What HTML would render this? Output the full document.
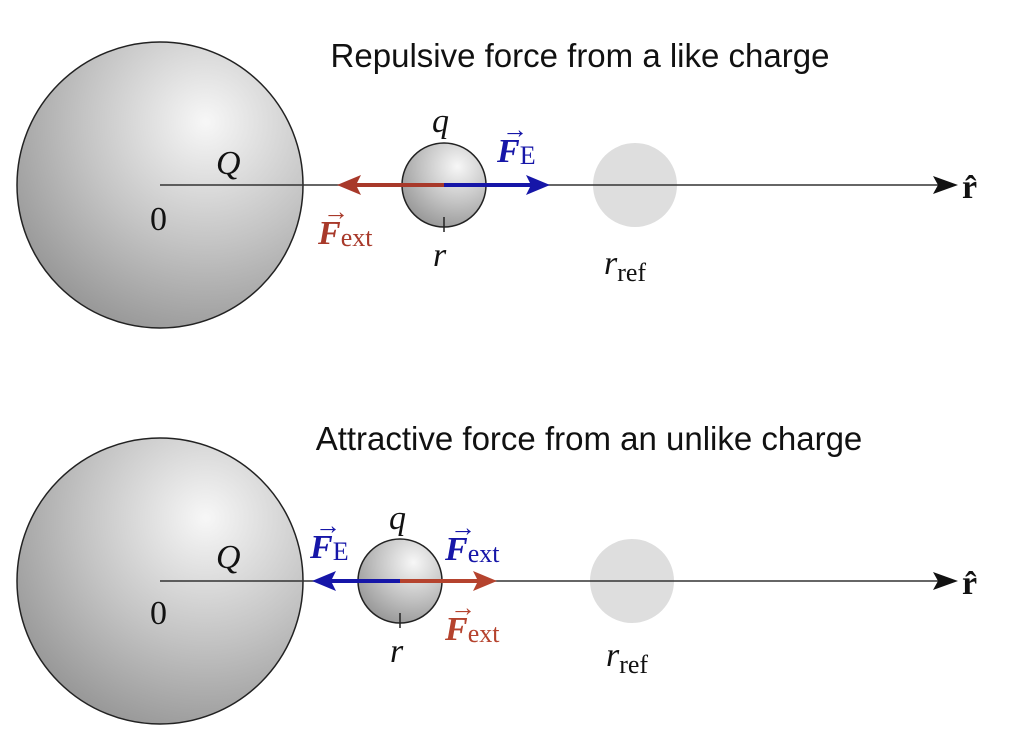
<!DOCTYPE html>
<html><head><meta charset="utf-8"><style>
html,body{margin:0;padding:0;background:#fff;}
svg{display:block;}
.t{font-family:"Liberation Sans",sans-serif;font-size:33px;fill:#111;}
.m{font-family:"Liberation Serif",serif;font-size:34px;}
.s{font-family:"Liberation Serif",serif;font-size:26px;}
</style></head><body>
<svg width="1024" height="745" viewBox="0 0 1024 745" xmlns="http://www.w3.org/2000/svg">
<defs>
<radialGradient id="g" cx="0.66" cy="0.28" r="0.85">
<stop offset="0" stop-color="#f7f7f7"/><stop offset="0.5" stop-color="#c4c4c4"/><stop offset="1" stop-color="#8e8e8e"/>
</radialGradient>
</defs>
<rect width="1024" height="745" fill="#fff"/>
<text class="t" x="580" y="67" text-anchor="middle">Repulsive force from a like charge</text>
<text class="t" x="589" y="450" text-anchor="middle">Attractive force from an unlike charge</text>

<!-- top panel -->
<circle cx="160" cy="185" r="143" fill="url(#g)" stroke="#222" stroke-width="1.5"/>
<circle cx="635" cy="185" r="42" fill="#dedede"/>
<line x1="160" y1="185" x2="945" y2="185" stroke="#333" stroke-width="1.5"/>
<polygon points="958,185 933,176 938,185 933,194" fill="#111"/>
<circle cx="444" cy="185" r="42" fill="url(#g)" stroke="#222" stroke-width="1.5"/>
<line x1="444" y1="217" x2="444" y2="232" stroke="#222" stroke-width="1.5"/>
<line x1="444" y1="185" x2="355" y2="185" stroke="#a8392a" stroke-width="4"/>
<polygon points="337,185 361,175 356,185 361,195" fill="#a8392a"/>
<line x1="444" y1="185" x2="532" y2="185" stroke="#1616a8" stroke-width="4"/>
<polygon points="550,185 526,175 531,185 526,195" fill="#1616a8"/>
<text class="m" x="962" y="198" style="fill:#111;font-weight:bold">r̂</text>
<text class="m" x="216" y="174" style="fill:#111;font-style:italic">Q</text>
<text class="m" x="150" y="230" style="fill:#111">0</text>
<text class="m" x="432" y="132" style="fill:#111;font-style:italic">q</text>
<text class="m" x="433" y="266" style="fill:#111;font-style:italic">r</text>
<text class="m" x="604" y="274" style="fill:#111;font-style:italic">r<tspan class="s" style="font-style:normal" dy="7">ref</tspan></text>
<text class="m" x="497" y="162" style="fill:#1616a8;font-style:italic;font-weight:bold">F<tspan class="s" style="font-style:normal;font-weight:normal" dy="2">E</tspan></text>
<text class="s" x="502" y="138" style="fill:#1616a8">→</text>
<text class="m" x="318" y="244" style="fill:#a8392a;font-style:italic;font-weight:bold">F<tspan class="s" style="font-style:normal;font-weight:normal" dy="2">ext</tspan></text>
<text class="s" x="323" y="220" style="fill:#a8392a">→</text>

<!-- bottom panel -->
<circle cx="160" cy="581" r="143" fill="url(#g)" stroke="#222" stroke-width="1.5"/>
<circle cx="632" cy="581" r="42" fill="#dedede"/>
<line x1="160" y1="581" x2="945" y2="581" stroke="#333" stroke-width="1.5"/>
<polygon points="958,581 933,572 938,581 933,590" fill="#111"/>
<circle cx="400" cy="581" r="42" fill="url(#g)" stroke="#222" stroke-width="1.5"/>
<line x1="400" y1="613" x2="400" y2="628" stroke="#222" stroke-width="1.5"/>
<line x1="400" y1="581" x2="330" y2="581" stroke="#1616a8" stroke-width="4"/>
<polygon points="312,581 336,571 331,581 336,591" fill="#1616a8"/>
<line x1="400" y1="581" x2="480" y2="581" stroke="#b5432e" stroke-width="4"/>
<polygon points="497,581 473,571 478,581 473,591" fill="#b5432e"/>
<text class="m" x="962" y="594" style="fill:#111;font-weight:bold">r̂</text>
<text class="m" x="216" y="568" style="fill:#111;font-style:italic">Q</text>
<text class="m" x="150" y="624" style="fill:#111">0</text>
<text class="m" x="389" y="529" style="fill:#111;font-style:italic">q</text>
<text class="m" x="390" y="662" style="fill:#111;font-style:italic">r</text>
<text class="m" x="606" y="666" style="fill:#111;font-style:italic">r<tspan class="s" style="font-style:normal" dy="7">ref</tspan></text>
<text class="m" x="310" y="558" style="fill:#1616a8;font-style:italic;font-weight:bold">F<tspan class="s" style="font-style:normal;font-weight:normal" dy="2">E</tspan></text>
<text class="s" x="315" y="534" style="fill:#1616a8">→</text>
<text class="m" x="445" y="560" style="fill:#1616a8;font-style:italic;font-weight:bold">F<tspan class="s" style="font-style:normal;font-weight:normal" dy="2">ext</tspan></text>
<text class="s" x="450" y="536" style="fill:#1616a8">→</text>
<text class="m" x="445" y="640" style="fill:#b5432e;font-style:italic;font-weight:bold">F<tspan class="s" style="font-style:normal;font-weight:normal" dy="2">ext</tspan></text>
<text class="s" x="450" y="616" style="fill:#b5432e">→</text>
</svg>
</body></html>
